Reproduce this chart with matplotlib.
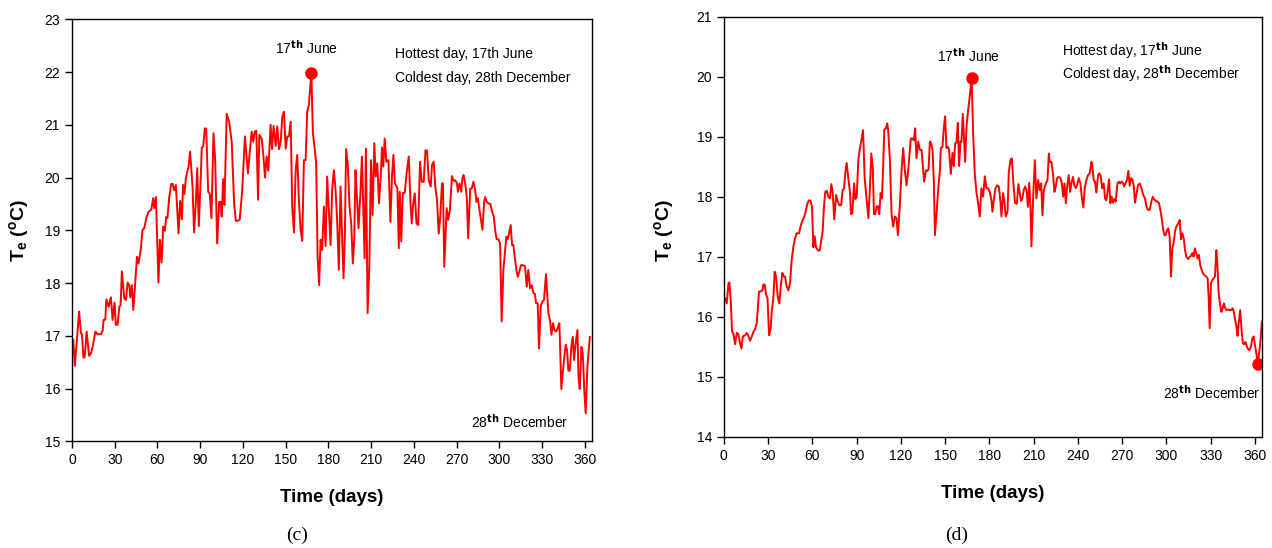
import matplotlib
matplotlib.use("Agg")
import matplotlib.pyplot as plt

plt.rcParams['font.family'] = ['Liberation Sans', 'DejaVu Sans']
plt.rcParams['mathtext.default'] = 'regular'

# Panel (c): daily T_e (day, degC)
days_c = [0.9, 2, 4, 5, 6.3, 7, 8, 8.9, 10.3, 12, 13.3, 14.5, 16.4, 18, 20.3, 21.5, 22.2, 23.4,
          24.1, 25.7, 27.3, 28.5, 29.9, 30.8, 32, 33.2, 34.1, 35, 36.7, 37.9, 39, 40.2, 40.9, 42,
          43, 44.4, 45.6, 46.7, 48.4, 49.5, 50.7, 52.3, 53.7, 55.6, 57, 57.7, 58.9, 60.7, 61.7,
          62.9, 64, 65.2, 66.1, 67, 68.2, 69.6, 70.6, 71.7, 72.9, 74.8, 75.9, 77.1, 78, 79, 79.9,
          81.8, 82.9, 84.6, 85.7, 86.9, 87.9, 89, 90.4, 91.1, 92.1, 93.2, 94.2, 95.6, 96.7, 97.9,
          99.3, 100.5, 101.9, 103.3, 104.2, 105.1, 106.1, 107, 108.6, 110.3, 112.1, 113.8, 115,
          116.1, 117.7, 119.5, 121.4, 123.5, 124.7, 126.1, 127.3, 128.2, 129.4, 130.6, 131.5,
          133.1, 134.3, 135.5, 136.6, 137.8, 139.4, 140.4, 141.5, 143, 144.1, 145.3, 146.5, 147.6,
          148.8, 150, 151.1, 152.3, 153.5, 154.6, 155.8, 157, 158.1, 159.3, 160.5, 161.6, 162.8,
          164, 165.1, 166.3, 168, 169.1, 170.3, 171.4, 172.4, 173.5, 174.5, 175.6, 176.8, 178,
          179.1, 180.3, 181.5, 182.6, 183.8, 185, 186.1, 187.3, 188.5, 189.6, 190.6, 191.5, 192.4,
          193.6, 194.8, 196, 197.1, 198.1, 199, 200, 201.1, 202.5, 203.5, 204.4, 205.4, 206.3,
          207.5, 208.7, 209.9, 211, 212.2, 213.2, 214.3, 215.5, 216.7, 217.6, 218.5, 219.5, 220.7,
          222.1, 223.5, 224.6, 225.6, 226.7, 228.4, 229.4, 230.1, 231.1, 232.2, 233.6, 235, 236.4,
          237.6, 238.5, 239.5, 240.6, 241.8, 243, 244.3, 245.5, 246.9, 248.1, 249.2, 250.4, 251.8,
          252.7, 253.9, 255, 256.2, 257.4, 258.5, 259.7, 260.4, 261.3, 263, 264.1, 265.3, 266.7,
          267.8, 269, 270.2, 270.9, 272, 273.2, 274.1, 274.8, 276, 277.1, 278.1, 279.5, 280.6,
          281.8, 283, 283.9, 284.8, 286, 287, 288.1, 289.3, 290, 291.1, 292.3, 293.7, 294.9, 296,
          297.2, 298.1, 299.3, 300.5, 301.6, 302.8, 304, 304.9, 305.8, 306.8, 307.9, 308.9, 309.8,
          311, 311.9, 312.9, 314, 315.2, 316.4, 318, 319.2, 320.3, 321.5, 322.7, 323.9, 325, 325.7,
          326.9, 327.8, 329, 330.2, 331.3, 332.7, 334.4, 335.5, 336.5, 337.7, 338.6, 339.8, 340.9,
          342.1, 343.5, 344.9, 346.5, 347.5, 348.4, 349.4, 350.5, 351.5, 352.4, 353.4, 354.8,
          355.5, 356.4, 357.6, 358.5, 359.7, 360.6, 361.8, 363.5]
temp_c = [16.92, 16.43, 17.11, 17.46, 17.05, 17.03, 16.59, 16.59, 17.08, 16.62, 16.67, 16.79,
          17.08, 17.03, 17.03, 17.10, 17.30, 17.31, 17.69, 17.55, 17.73, 17.30, 17.63, 17.21,
          17.21, 17.55, 17.58, 18.22, 17.71, 17.68, 18.01, 17.96, 17.73, 17.96, 17.49, 18.01,
          18.50, 18.37, 18.66, 19.01, 19.04, 19.25, 19.35, 19.39, 19.61, 19.42, 19.63, 18.01,
          18.82, 18.39, 19.07, 18.99, 19.25, 19.23, 19.61, 19.88, 19.88, 19.76, 19.86, 18.94,
          19.56, 19.21, 19.86, 19.69, 19.99, 20.21, 20.49, 19.83, 18.96, 19.51, 20.18, 19.08,
          20.02, 20.57, 20.59, 20.93, 20.93, 19.73, 19.70, 19.23, 20.84, 20.33, 18.75, 19.54,
          19.54, 19.26, 19.97, 19.48, 21.21, 21.06, 20.68, 19.51, 19.18, 19.18, 19.20, 19.76,
          20.78, 20.08, 20.46, 20.87, 20.68, 20.87, 20.89, 19.58, 20.81, 20.74, 20.43, 20.00,
          20.40, 20.13, 21.00, 20.54, 20.98, 20.60, 20.97, 20.54, 20.68, 21.15, 21.25, 20.55,
          20.78, 20.78, 21.06, 19.45, 18.96, 20.14, 20.43, 19.54, 19.01, 18.80, 20.33, 20.33,
          21.25, 21.38, 21.98, 20.84, 20.56, 20.27, 18.50, 17.96, 18.82, 18.63, 19.45, 18.70,
          20.02, 19.39, 18.72, 19.76, 20.14, 19.76, 19.20, 18.25, 19.83, 18.88, 18.09, 18.88,
          20.54, 20.24, 19.45, 19.13, 18.37, 18.82, 20.14, 19.64, 19.04, 19.73, 20.40, 19.51,
          18.47, 20.55, 17.43, 18.31, 20.33, 19.29, 20.65, 20.02, 20.27, 19.51, 20.02, 20.57,
          20.21, 20.74, 20.30, 20.33, 19.16, 20.02, 20.43, 19.89, 19.80, 18.66, 19.73, 18.79,
          19.71, 19.71, 20.11, 20.40, 19.51, 19.13, 19.51, 19.70, 19.13, 19.10, 20.30, 19.92,
          19.92, 20.52, 20.51, 19.95, 19.83, 20.24, 20.30, 19.83, 19.58, 18.94, 19.26, 19.89,
          19.89, 18.31, 19.42, 19.20, 19.40, 20.03, 19.94, 19.95, 19.89, 19.73, 19.89, 19.73,
          19.99, 20.05, 19.89, 19.64, 18.85, 19.79, 19.79, 19.92, 19.76, 19.54, 19.61, 19.39,
          19.20, 19.01, 19.54, 19.63, 19.54, 19.51, 19.50, 19.35, 19.27, 18.97, 18.83, 18.83,
          18.75, 17.27, 18.25, 18.60, 18.88, 18.83, 18.94, 19.10, 18.72, 18.72, 18.45, 18.25,
          18.12, 18.22, 18.34, 18.34, 18.32, 17.93, 18.25, 17.90, 17.96, 17.81, 17.79, 17.62,
          17.62, 16.76, 17.55, 17.65, 17.68, 18.17, 17.43, 17.30, 17.02, 17.24, 17.11, 17.08,
          17.14, 17.24, 15.99, 16.42, 16.83, 16.73, 16.34, 16.34, 16.79, 16.98, 16.54, 16.83,
          17.11, 16.23, 15.99, 16.79, 16.67, 15.91, 15.53, 16.42, 16.98]

# Panel (d): daily T_e (day, degC)
days_d = [0.9, 2, 3.2, 3.8, 4.7, 5.6, 6.5, 7.7, 8.8, 9.9, 11, 12, 12.9, 14.4, 15.6, 16.7, 17.8,
          19, 20.1, 21.2, 22.3, 23, 23.9, 25.1, 26.2, 26.9, 27.8, 28.7, 29.6, 30.7, 31.8, 32.5,
          33.6, 34.5, 35.4, 36.6, 37.7, 38.6, 39.7, 40.6, 41.5, 42.7, 43.8, 44.9, 46, 47.2, 48.3,
          49.4, 51, 52.1, 53.3, 54.4, 55.5, 56.7, 57.8, 58.9, 59.8, 60.7, 61.6, 62.5, 63.7, 65,
          66.1, 67, 67.9, 68.8, 69.8, 70.9, 72, 72.9, 73.8, 74.9, 76.1, 77.2, 78.3, 79.5, 80.6,
          81.5, 82.4, 83.3, 84.4, 85.6, 86.2, 87.1, 88.3, 89.2, 90.1, 91.2, 92.3, 93.5, 94.4,
          95.5, 96.8, 98, 99.1, 100, 101, 101.8, 102.7, 103.6, 104.5, 105.4, 106.3, 107.2, 108.1,
          108.8, 109.9, 110.8, 111.5, 112.6, 113.7, 114.8, 116, 117.1, 118, 119.4, 120.5, 121.6,
          122.7, 123.9, 125, 126.1, 126.8, 127.7, 128.8, 129.7, 130.6, 131.8, 132.9, 134, 135.2,
          135.8, 137, 137.9, 138.8, 139.7, 140.6, 141.5, 142.4, 143.1, 144.2, 145.3, 146.5, 147.1,
          148.2, 149.1, 150, 150.9, 152, 152.7, 153.9, 155, 155.9, 156.8, 157.7, 158.6, 159.5,
          160.4, 161.1, 162, 162.9, 163.6, 164.5, 165.4, 166.7, 168, 169, 170.1, 171.3, 172.4,
          173.5, 174.6, 175.8, 176.9, 178, 179.2, 180.3, 181.4, 182.1, 183, 184.1, 185.3, 186.4,
          187.5, 188.2, 189.3, 190.2, 191.1, 192.3, 193.2, 194.3, 195.2, 196.3, 197.4, 198.6,
          199.7, 200.6, 201.5, 202.4, 203.3, 204.2, 205.2, 206.1, 207, 207.9, 208.5, 209.7, 210.8,
          211.9, 213.1, 214.2, 215.1, 216, 216.9, 218.3, 219.4, 220.3, 221, 222.1, 223.2, 224.1,
          225, 225.9, 226.8, 228.2, 229.1, 230, 230.9, 231.8, 232.7, 233.8, 234.7, 235.6, 236.7,
          237.6, 238.5, 239.4, 240.6, 241.7, 242.6, 243.7, 244.6, 245.8, 246.9, 248, 249.2, 249.8,
          250.7, 251.6, 252.5, 253.7, 254.6, 255.5, 256.4, 257.5, 258.4, 259.3, 260.4, 261.1, 262,
          262.9, 263.8, 264.7, 265.6, 266.8, 267.7, 268.6, 269.5, 270.6, 271.3, 272.2, 273.3,
          274.2, 275.1, 276, 276.9, 277.8, 278.7, 279.6, 280.7, 281.9, 282.8, 283.7, 284.6, 285.5,
          286.4, 287.5, 288.6, 289.8, 290.7, 291.6, 292.7, 293.8, 295, 295.9, 296.8, 297.7, 298.6,
          299.5, 300.4, 301.3, 302.2, 303.1, 304, 304.9, 305.8, 306.7, 308.1, 309, 309.9, 310.8,
          311.7, 312.6, 313.5, 314.8, 315.7, 316.6, 317.5, 318.4, 319.3, 320.2, 321.1, 322, 322.9,
          323.9, 324.8, 325.9, 327, 327.9, 328.6, 329.3, 330.2, 331.1, 332, 332.9, 333.8, 334.5,
          335.4, 336.3, 337.2, 338.1, 339, 339.9, 340.8, 341.9, 342.8, 343.9, 344.8, 345.7, 346.6,
          347.5, 348.2, 349.1, 350, 350.9, 351.8, 352.7, 353.6, 354.5, 355.4, 356.3, 357.3, 358.2,
          359.1, 360, 360.9, 362, 363.6, 364.7]
temp_d = [16.31, 16.22, 16.56, 16.57, 16.28, 15.75, 15.72, 15.54, 15.73, 15.71, 15.56, 15.47,
          15.67, 15.69, 15.73, 15.68, 15.60, 15.67, 15.75, 15.79, 15.89, 16.11, 16.42, 16.42,
          16.44, 16.54, 16.53, 16.36, 16.32, 15.69, 15.81, 16.08, 16.31, 16.75, 16.67, 16.33,
          16.22, 16.50, 16.73, 16.67, 16.67, 16.50, 16.44, 16.56, 16.94, 17.17, 17.31, 17.39,
          17.39, 17.51, 17.60, 17.66, 17.75, 17.89, 17.94, 17.93, 17.83, 17.16, 17.34, 17.16,
          17.11, 17.10, 17.28, 17.42, 17.83, 18.08, 18.10, 18.00, 17.97, 18.21, 18.08, 17.62,
          18.03, 17.92, 17.86, 17.86, 18.11, 18.14, 18.40, 18.56, 18.31, 18.06, 17.71, 17.72,
          18.22, 17.96, 18.00, 18.62, 18.81, 18.97, 19.11, 18.31, 17.97, 17.64, 18.17, 18.72,
          18.47, 17.71, 17.71, 17.84, 17.84, 17.71, 18.06, 17.97, 18.56, 19.12, 19.14, 19.22,
          19.08, 18.61, 17.72, 17.50, 17.67, 17.64, 17.36, 17.89, 18.44, 18.81, 18.44, 18.19,
          18.44, 18.78, 18.97, 18.97, 18.94, 19.14, 18.64, 18.92, 18.78, 18.78, 18.44, 18.25,
          18.44, 18.43, 18.46, 18.92, 18.89, 18.78, 18.22, 17.36, 17.72, 18.11, 18.44, 18.81,
          18.83, 19.14, 19.34, 18.81, 18.83, 18.78, 18.38, 18.73, 18.51, 18.89, 18.90, 19.23,
          18.51, 18.92, 18.92, 19.38, 18.94, 18.58, 19.17, 19.39, 19.67, 19.98, 19.06, 18.39,
          18.06, 17.89, 17.67, 18.14, 18.00, 18.34, 18.14, 18.14, 18.08, 17.94, 17.75, 17.94,
          18.14, 18.19, 18.17, 17.92, 17.67, 18.06, 17.92, 17.67, 17.75, 18.42, 18.61, 18.64,
          18.22, 17.90, 17.88, 18.21, 18.06, 17.93, 17.97, 18.11, 18.17, 18.11, 17.83, 18.23,
          17.81, 17.17, 18.00, 18.61, 17.97, 18.28, 18.11, 18.22, 17.69, 18.11, 18.22, 18.28,
          18.72, 18.58, 18.58, 18.36, 18.08, 18.17, 18.31, 18.33, 18.31, 18.22, 18.00, 18.22,
          17.89, 18.17, 18.36, 18.08, 18.22, 18.33, 18.19, 18.14, 18.19, 18.31, 18.22, 18.00,
          17.82, 18.14, 18.28, 18.36, 18.39, 18.58, 18.50, 18.28, 18.25, 18.07, 18.36, 18.39,
          18.34, 18.14, 18.22, 17.97, 17.94, 18.14, 18.29, 17.89, 18.00, 17.90, 17.96, 17.92,
          18.22, 18.25, 18.22, 18.25, 18.23, 18.17, 18.22, 18.28, 18.43, 18.18, 18.31, 18.29,
          18.19, 17.90, 18.03, 18.19, 18.22, 18.17, 18.08, 18.01, 17.97, 17.84, 17.78, 17.78,
          17.92, 18.00, 17.96, 17.93, 17.92, 17.89, 17.78, 17.64, 17.47, 17.36, 17.36, 17.44,
          17.47, 17.33, 16.67, 17.14, 17.23, 17.42, 17.50, 17.56, 17.61, 17.29, 17.39, 17.31,
          17.11, 17.00, 16.96, 17.00, 17.01, 17.06, 17.00, 17.14, 17.06, 16.97, 17.03, 16.86,
          16.78, 16.72, 16.69, 16.67, 16.64, 16.33, 15.81, 16.56, 16.61, 16.64, 16.67, 17.11,
          16.89, 16.39, 16.22, 16.08, 16.14, 16.22, 16.14, 16.11, 16.12, 16.11, 16.11, 16.14,
          16.08, 15.94, 15.83, 15.68, 15.92, 16.11, 15.78, 15.56, 15.54, 15.58, 15.50, 15.46,
          15.44, 15.50, 15.64, 15.67, 15.53, 15.39, 15.22, 15.56, 15.92]

hot_day = 168   # 17th June
cold_day = 362  # 28th December

fig = plt.figure(figsize=(12.72, 5.48), dpi=100)
ax_c = fig.add_axes([0.0566, 0.1947, 0.4088, 0.770])
ax_d = fig.add_axes([0.569, 0.2031, 0.4234, 0.7664])

red = '#ff0000'
tick_kw = dict(direction='out', length=5, width=1, labelsize=10, top=False, right=False)

for ax in (ax_c, ax_d):
    ax.set_xlim(0, 365)
    ax.set_xticks(range(0, 361, 30))
    ax.tick_params(**tick_kw)
    for s in ax.spines.values():
        s.set_linewidth(1.0)
    ax.set_xlabel('Time (days)', fontsize=13.5, fontweight='bold', labelpad=16)
    ax.set_ylabel('T$_e$ ($^o$C)', fontsize=14, fontweight='bold')

ax_c.yaxis.set_label_coords(-0.078, 0.50)
ax_d.yaxis.set_label_coords(-0.089, 0.49)

# (c)
ax_c.plot(days_c, temp_c, color=red, lw=1.4)
ax_c.plot([hot_day], [temp_c[days_c.index(hot_day)]], 'o', color=red, ms=8)
ax_c.set_ylim(15, 23)
ax_c.set_yticks(range(15, 24))
ax_c.text(164.6, 22.47, '17$^{\\mathbf{th}}$ June', ha='center', va='center', fontsize=10)
ax_c.text(227, 22.34, 'Hottest day, 17th June', va='center', fontsize=10)
ax_c.text(227, 21.89, 'Coldest day, 28th December', va='center', fontsize=10)
ax_c.text(348.5, 15.37, '28$^{\\mathbf{th}}$ December', ha='right', va='center', fontsize=10)

# (d)
ax_d.plot(days_d, temp_d, color=red, lw=1.4)
ax_d.plot([hot_day], [temp_d[days_d.index(hot_day)]], 'o', color=red, ms=8)
ax_d.plot([cold_day], [temp_d[days_d.index(cold_day)]], 'o', color=red, ms=8)
ax_d.set_ylim(14, 21)
ax_d.set_yticks(range(14, 22))
ax_d.text(165.7, 20.35, '17$^{\\mathbf{th}}$ June', ha='center', va='center', fontsize=10)
ax_d.text(229.5, 20.43, 'Hottest day, 17$^{\\mathbf{th}}$ June', va='center', fontsize=10)
ax_d.text(229.5, 20.06, 'Coldest day, 28$^{\\mathbf{th}}$ December', va='center', fontsize=10)
ax_d.text(363.3, 14.73, '28$^{\\mathbf{th}}$ December', ha='right', va='center', fontsize=10)

fig.text(297 / 1272, 0.024, '(c)', ha='center', va='center', fontsize=14, family='Liberation Serif')
fig.text(957 / 1272, 0.024, '(d)', ha='center', va='center', fontsize=14, family='Liberation Serif')

fig.savefig('out.png', dpi=100)
